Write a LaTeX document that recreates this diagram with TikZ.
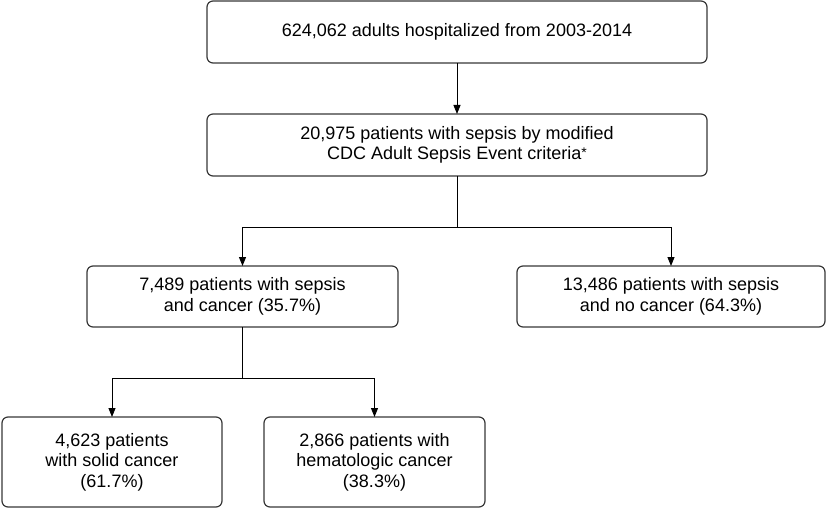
\documentclass[tikz,border=0pt]{standalone}
\usepackage{fontspec}
\setmainfont{Liberation Sans}
\usetikzlibrary{positioning,arrows.meta}
\definecolor{boxcol}{RGB}{55,55,55}

\begin{document}
\begin{tikzpicture}[
  flow/.style={rectangle, draw=boxcol, line width=1.2pt, rounded corners=6pt,
               font=\fontsize{18}{20.5}\selectfont, minimum height=62pt,
               align=center, inner sep=0pt, outer sep=0pt},
  ea/.style={-{Triangle[length=9pt,width=7pt]}, line width=0.9pt},
  ln/.style={line width=0.9pt}
]
\useasboundingbox (0,0) rectangle (828pt,-508pt);

\node[flow, minimum width=500pt] (all) at (457pt,-32pt) {624,062 adults hospitalized from 2003-2014};
\node[flow, minimum width=500pt, below=51pt of all] (sepsis)
  {20,975 patients with sepsis by modified\\CDC Adult Sepsis Event criteria\raisebox{2.5pt}{\fontsize{14}{14}\selectfont *}};

\node[flow, minimum width=311pt, minimum height=61pt, below=90pt of sepsis, xshift=-214.5pt] (cancer)
  {7,489 patients with sepsis\\and cancer (35.7\%)};
\node[flow, minimum width=308pt, minimum height=61pt, below=90pt of sepsis, xshift=214pt] (nocancer)
  {13,486 patients with sepsis\\and no cancer (64.3\%)};

\node[flow, minimum width=220pt, minimum height=90pt, below=90pt of cancer, xshift=-130.5pt] (solid)
  {4,623 patients\\with solid cancer\\(61.7\%)};
\node[flow, minimum width=221pt, minimum height=90pt, below=90pt of cancer, xshift=132pt] (hemato)
  {2,866 patients with\\hematologic cancer\\(38.3\%)};

\coordinate[below=51pt of sepsis] (split1);
\coordinate[below=51pt of cancer] (split2);

\draw[ea] (all) -- (sepsis);
\draw[ln] (sepsis) -- (split1);
\draw[ea] (split1) -| (cancer);
\draw[ea] (split1) -| (nocancer);

\draw[ln] (cancer) -- (split2);
\draw[ea] (split2) -| (solid);
\draw[ea] (split2) -| (hemato);

\end{tikzpicture}
\end{document}
